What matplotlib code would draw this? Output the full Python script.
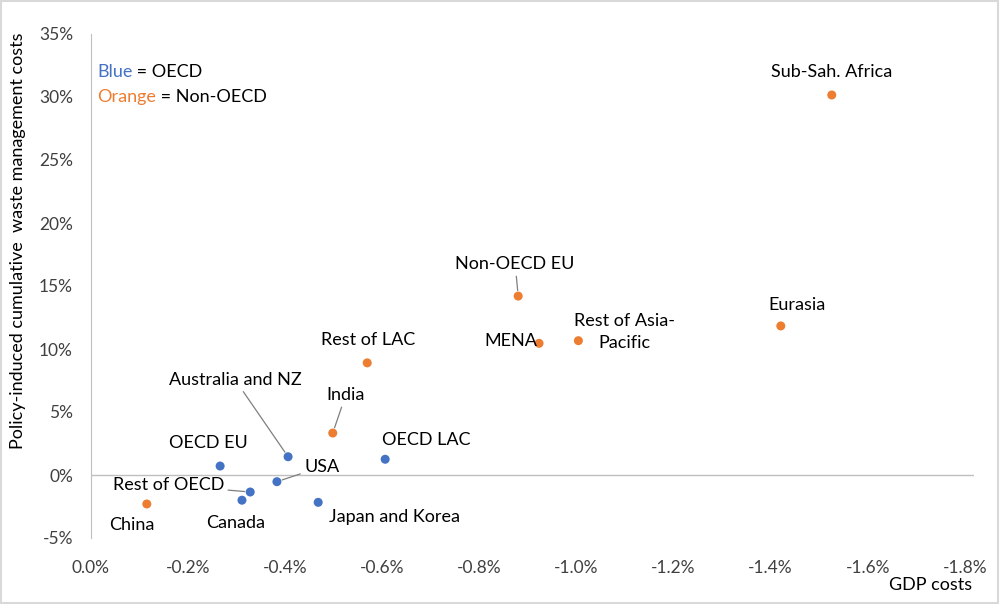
import matplotlib
matplotlib.use("Agg")
import matplotlib.pyplot as plt
from matplotlib.patches import Rectangle

plt.rcParams['font.family'] = ['Lato', 'DejaVu Sans']

regions = ["China", "OECD EU", "Australia and NZ", "USA", "Rest of OECD", "Canada",
           "Japan and Korea", "OECD LAC", "India", "Rest of LAC", "Non-OECD EU",
           "MENA", "Rest of Asia-\nPacific", "Eurasia", "Sub-Sah. Africa"]
gdp_costs = [-0.115, -0.266, -0.406, -0.383, -0.328, -0.311,
             -0.468, -0.606, -0.498, -0.569, -0.880,
             -0.923, -1.004, -1.421, -1.526]
waste_costs = [-2.30, 0.71, 1.45, -0.53, -1.35, -2.00,
               -2.17, 1.25, 3.33, 8.90, 14.20,
               10.45, 10.66, 11.83, 30.16]
is_oecd = [False, True, True, True, True, True,
           True, True, False, False, False,
           False, False, False, False]
x_ticks = [0.0, -0.2, -0.4, -0.6, -0.8, -1.0, -1.2, -1.4, -1.6, -1.8]
y_ticks = [-5, 0, 5, 10, 15, 20, 25, 30, 35]

# label offsets in pixels (dx, dy) and whether a leader line is drawn
label_offsets = {
    "China": (-15, -21, False),
    "OECD EU": (-12, 23, False),
    "Australia and NZ": (-53, 77, True),
    "USA": (45, 15, True),
    "Rest of OECD": (-82, 7, True),
    "Canada": (-6, -23, False),
    "Japan and Korea": (76, -15, False),
    "OECD LAC": (41, 19, False),
    "India": (13, 38, True),
    "Rest of LAC": (1, 23, False),
    "Non-OECD EU": (-3, 32, True),
    "MENA": (-28, 2, False),
    "Rest of Asia-\nPacific": (46, 9, False),
    "Eurasia": (16, 21, False),
    "Sub-Sah. Africa": (0, 23, False),
}

BLUE = "#4472C4"
ORANGE = "#ED7D31"
FS = 13

fig = plt.figure(figsize=(10, 6.04), dpi=100)
W, H = 1000, 604
ax = fig.add_axes([91 / W, 1 - 538 / H, (974 - 91) / W, (538 - 34) / H])

colors = [BLUE if o else ORANGE for o in is_oecd]
ax.scatter(gdp_costs, waste_costs, s=42, c=colors, zorder=3, linewidths=0)

ax.set_xlim(0, -1.819)
ax.set_ylim(-5, 35)
ax.set_xticks(x_ticks)
ax.set_xticklabels([("0.0%" if v == 0 else f"{v:.1f}%") for v in x_ticks])
ax.set_yticks(y_ticks)
ax.set_yticklabels([f"{v}%" for v in y_ticks])
ax.tick_params(length=0, labelsize=12.5, colors="#404040")
ax.tick_params(axis='y', pad=13)
ax.tick_params(axis='x', pad=15.5)

for s in ["top", "right", "bottom"]:
    ax.spines[s].set_visible(False)
ax.spines["left"].set_color("#bfbfbf")
ax.axhline(0, color="#bfbfbf", lw=1, zorder=1)

for name, x, y in zip(regions, gdp_costs, waste_costs):
    dx, dy, leader = label_offsets[name]
    kw = {}
    if leader:
        kw["arrowprops"] = dict(arrowstyle='-', color="#7f7f7f", lw=0.9,
                                shrinkA=1, shrinkB=4)
    ax.annotate(name, (x, y), xytext=(dx, dy), textcoords="offset pixels",
                ha="center", va="center", fontsize=FS, color="#000000",
                linespacing=1.45, **kw)

# legend-like text
t1 = ax.text(97 / W, 1 - 72 / H, "Blue", transform=fig.transFigure, color=BLUE,
             fontsize=FS, va="center", ha="left")
ax.annotate(" = OECD", xy=(1, 0.5), xycoords=t1, va="center", ha="left",
            fontsize=FS, color="black")
t2 = ax.text(97 / W, 1 - 97 / H, "Orange", transform=fig.transFigure, color=ORANGE,
             fontsize=FS, va="center", ha="left")
ax.annotate(" = Non-OECD", xy=(1, 0.5), xycoords=t2, va="center", ha="left",
            fontsize=FS, color="black")

fig.text(18 / W, 1 - 241 / H, "Policy-induced cumulative  waste management costs",
         rotation=90, ha="center", va="center", fontsize=FS, color="#000000")
fig.text(972 / W, 1 - 585 / H, "GDP costs", ha="right", va="center",
         fontsize=FS, color="#000000")

fig.patches.append(Rectangle((0.001, 0.001), 0.997, 0.997, transform=fig.transFigure,
                             fill=False, edgecolor="#d9d9d9", lw=1.5))

fig.savefig("out.png", dpi=100, facecolor="white")
